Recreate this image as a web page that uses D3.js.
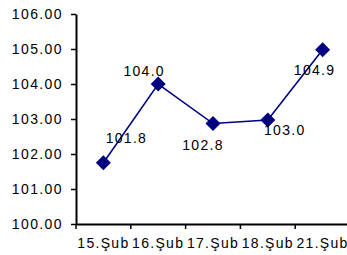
<!DOCTYPE html>
<meta charset="utf-8">
<style>
  body { margin: 0; background: #fff; }
  text { font-family: "Liberation Sans", Arial, sans-serif; }
</style>
<svg id="chart" width="347" height="255"></svg>
<script src="https://d3js.org/d3.v7.min.js"></script>
<script>
// data
var categories = ["15.Şub", "16.Şub", "17.Şub", "18.Şub", "21.Şub"]
var values = [101.75, 104.0, 102.87, 102.97, 104.98]
var valueLabels = ["101.8", "104.0", "102.8", "103.0", "104.9"]
var yTicks = [100, 101, 102, 103, 104, 105, 106]

// label offsets relative to point (dx, dy)
var labelOffsets = [[23, -25], [-14, -13], [-10, 22], [17, 10], [-8, 20]]

var svg = d3.select("#chart")
var mLeft = 76, mRight = 350, mTop = 14, mBottom = 224

var x = d3.scaleBand().domain(categories).range([mLeft, mRight])
var y = d3.scaleLinear().domain([100, 106]).range([mBottom, mTop])

// y axis
var yAxis = svg.append("g").attr("transform", "translate(" + mLeft + ",0)")
  .call(d3.axisLeft(y).tickValues(yTicks).tickSize(5).tickSizeOuter(0)
    .tickFormat(d3.format(".2f")))
yAxis.selectAll("text").style("font-size", "14px").style("letter-spacing", "1.4px")
  .attr("fill", "#000").attr("x", -13)
yAxis.selectAll("line").attr("stroke", "#000").attr("stroke-width", 1.5)
yAxis.select(".domain").attr("stroke", "#000").attr("stroke-width", 2)

// x axis
var xAxis = svg.append("g").attr("transform", "translate(0," + mBottom + ")")
  .call(d3.axisBottom(x).tickSize(0).tickSizeOuter(0))
xAxis.selectAll("text").style("font-size", "14px").style("letter-spacing", "1.3px")
  .attr("fill", "#000").attr("y", 14).attr("dy", "0.71em")
xAxis.select(".domain").attr("stroke", "#000").attr("stroke-width", 2)
// tick marks between categories
xAxis.selectAll(".sep").data(categories.concat(["end"])).enter().append("line")
  .attr("x1", (d, i) => mLeft + i * x.step())
  .attr("x2", (d, i) => mLeft + i * x.step())
  .attr("y1", 0).attr("y2", 5)
  .attr("stroke", "#000").attr("stroke-width", 1.5)

// line
var cx = (d, i) => x(categories[i]) + x.bandwidth() / 2
svg.append("path")
  .datum(values)
  .attr("fill", "none")
  .attr("stroke", "#000080")
  .attr("stroke-width", 1.6)
  .attr("d", d3.line().x(cx).y(d => y(d)))

// diamonds
svg.selectAll(".pt").data(values).enter().append("path")
  .attr("transform", (d, i) => "translate(" + cx(d, i) + "," + y(d) + ")")
  .attr("d", "M0,-7.5L7.5,0L0,7.5L-7.5,0Z")
  .attr("fill", "#000080")

// data labels
svg.selectAll(".lbl").data(values).enter().append("text")
  .attr("x", (d, i) => cx(d, i) + labelOffsets[i][0])
  .attr("y", (d, i) => y(d) + labelOffsets[i][1])
  .attr("text-anchor", "middle")
  .attr("dy", "0.35em")
  .style("font-size", "14px").style("letter-spacing", "1.3px")
  .attr("fill", "#000")
  .text((d, i) => valueLabels[i])
</script>
